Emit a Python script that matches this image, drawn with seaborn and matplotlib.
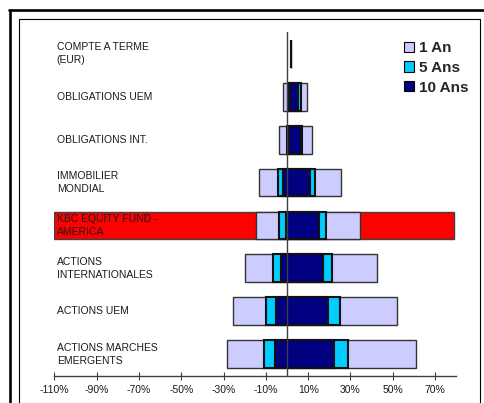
import matplotlib
matplotlib.use("Agg")
import matplotlib.pyplot as plt
from matplotlib.lines import Line2D
from matplotlib.patches import Patch
import seaborn as sns

categories = [
    "COMPTE A TERME\n(EUR)",
    "OBLIGATIONS UEM",
    "OBLIGATIONS INT.",
    "IMMOBILIER\nMONDIAL",
    "KBC EQUITY FUND -\nAMERICA",
    "ACTIONS\nINTERNATIONALES",
    "ACTIONS UEM",
    "ACTIONS MARCHES\nEMERGENTS",
]
highlight = "KBC EQUITY FUND -\nAMERICA"

# min / max rendement (%) par horizon
an1_low = [1.9, -1.7, -3.6, -13.1, -14.8, -19.9, -25.7, -28.5]
an1_high = [2.1, 9.3, 11.7, 25.6, 34.5, 42.4, 52.2, 60.9]
ans5_low = [1.9, 0.5, 0.0, -4.1, -3.6, -6.5, -10.1, -10.9]
ans5_high = [2.1, 6.5, 7.3, 13.2, 18.4, 21.1, 25.1, 28.7]
ans10_low = [1.9, 1.6, 1.0, -2.1, -0.6, -3.0, -5.2, -5.7]
ans10_high = [2.1, 5.2, 6.4, 10.9, 15.3, 17.2, 19.2, 22.2]

series_names = ["1 An", "5 Ans", "10 Ans"]
series_colors = ["#CCCCFF", "#00CCFF", "#000080"]

xticks = list(range(-110, 71, 20))
xmin, xmax = -110, 80

sns.set_style("white")
plt.rcParams["font.family"] = ["Liberation Sans", "DejaVu Sans"]

fig = plt.figure(figsize=(4.84, 4.03), dpi=100)
ax = fig.add_axes([54.4 / 484, 1 - 375.7 / 403, (456.2 - 54.4) / 484, (375.7 - 32.3) / 403])

# bande rouge pour le fonds mis en avant
hi = categories.index(highlight)
ax.barh(hi, xmax - 1 - xmin, left=xmin, height=0.65, color="#FF0000",
        edgecolor="#404040", linewidth=1.0, zorder=0.8)

layers = [(an1_low, an1_high), (ans5_low, ans5_high), (ans10_low, ans10_high)]
for (low, high), col, lw in zip(layers, series_colors, [1.0, 1.5, 1.5]):
    widths = [h - l for l, h in zip(low, high)]
    sns.barplot(x=widths, y=categories, left=low, color=col, width=0.65,
                saturation=1, edgecolor="#111111" if lw > 1 else "#333333",
                linewidth=lw, errorbar=None, ax=ax, zorder=2)

ax.axvline(0, color="#404040", linewidth=1.0, zorder=5)

for i, name in enumerate(categories):
    ax.text(-108.9, i, name, ha="left", va="center", fontsize=7.5,
            color="#1a1a1a", linespacing=1.4, zorder=6)

ax.set_xlim(xmin, xmax)
ax.set_ylim(len(categories) - 0.5, -0.5)
ax.set_yticks([])
ax.set_ylabel("")
ax.set_xticks(xticks)
ax.set_xticklabels([f"{t}%" for t in xticks], fontsize=7.5, color="#1a1a1a")
ax.tick_params(axis="x", direction="inout", length=6, width=0.8,
               color="#404040", pad=4, bottom=True)
for side in ["top", "right", "left"]:
    ax.spines[side].set_visible(False)
ax.spines["bottom"].set_color("#404040")
ax.spines["bottom"].set_linewidth(1.0)

handles = [Patch(facecolor=c, edgecolor="black", linewidth=0.8) for c in series_colors]
fig.legend(handles, series_names, loc="upper left",
           bbox_to_anchor=(404 / 484, 1 - 41 / 403), frameon=False,
           prop={"weight": "bold", "size": 11}, handlelength=0.65,
           handleheight=0.65, handletextpad=0.35, labelspacing=0.38,
           borderpad=0, borderaxespad=0)

# cadre extérieur épais + cadre intérieur fin
W, H = 484, 403
fig.add_artist(Line2D([9 / W, 1], [1 - 10 / H, 1 - 10 / H], color="black", linewidth=1.9))
fig.add_artist(Line2D([9.5 / W, 9.5 / W], [0, 1 - 10 / H], color="black", linewidth=1.9))
fig.add_artist(Line2D([18.5 / W, 479.5 / W, 479.5 / W], [1 - 19 / H, 1 - 19 / H, 0],
                      color="black", linewidth=0.8))
fig.add_artist(Line2D([18.5 / W, 18.5 / W], [1 - 19 / H, 0], color="black", linewidth=0.8))

fig.savefig("out.png", dpi=100)
